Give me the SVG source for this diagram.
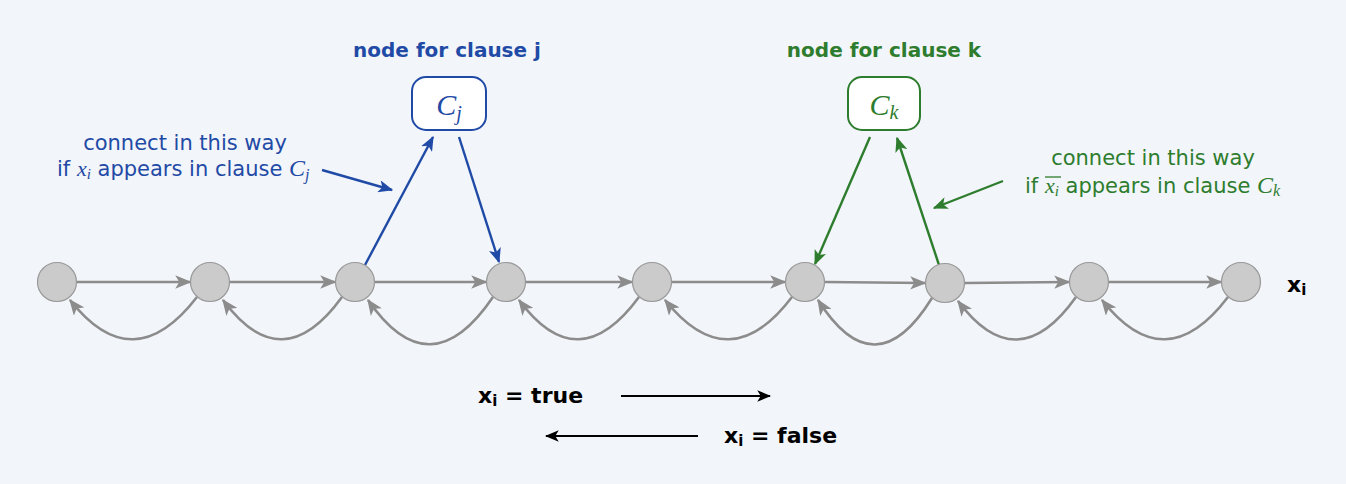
<svg xmlns="http://www.w3.org/2000/svg" width="1346" height="484" viewBox="0 0 1346 484">
<style>
.bg{fill:#f2f5f9}
.v{fill:#cbcbcb;stroke:#999;stroke-width:1.2}
.e{fill:none;stroke:#8c8c8c;stroke-width:2.6;marker-end:url(#ag)}
.eb{fill:none;stroke:#1f4aa6;stroke-width:2.4;marker-end:url(#ab)}
.eg{fill:none;stroke:#2e7d2e;stroke-width:2.4;marker-end:url(#agr)}
.ek{fill:none;stroke:#000;stroke-width:2;marker-end:url(#ak)}
.sans{font-family:"DejaVu Sans","Open Sans",sans-serif}
.math{font-family:"Liberation Serif","DejaVu Serif",serif;font-style:italic}
.blue{fill:#1f4aa6}
.green{fill:#2e7d2e}
</style>
<defs>
<marker id="ag" viewBox="0 0 12 10" refX="11" refY="5" markerWidth="6.2" markerHeight="5.2" orient="auto" markerUnits="strokeWidth"><path d="M0,0 L12,5 L0,10 L3,5 z" fill="#8c8c8c"/></marker>
<marker id="ab" viewBox="0 0 12 10" refX="11" refY="5" markerWidth="6.2" markerHeight="5.2" orient="auto" markerUnits="strokeWidth"><path d="M0,0 L12,5 L0,10 L3,5 z" fill="#1f4aa6"/></marker>
<marker id="agr" viewBox="0 0 12 10" refX="11" refY="5" markerWidth="6.2" markerHeight="5.2" orient="auto" markerUnits="strokeWidth"><path d="M0,0 L12,5 L0,10 L3,5 z" fill="#2e7d2e"/></marker>
<marker id="ak" viewBox="0 0 12 10" refX="11" refY="5" markerWidth="7" markerHeight="5.8" orient="auto" markerUnits="strokeWidth"><path d="M0,0 L12,5 L0,10 L3,5 z" fill="#000"/></marker>
</defs>
<rect class="bg" x="0" y="0" width="1346" height="484"/>

<g id="connectors">
<path class="e" d="M77,282 L190,282"/>
<path class="e" d="M230,282 L335,282"/>
<path class="e" d="M375,282 L486,282"/>
<path class="e" d="M526,282 L632,282"/>
<path class="e" d="M672,282 L785,282"/>
<path class="e" d="M825,282 L925,283"/>
<path class="e" d="M965,283 L1069,282"/>
<path class="e" d="M1109,282 L1221,282"/>

<path class="e" d="M197,297 Q133,380 70,300"/>
<path class="e" d="M342,297 Q282,380 223,300"/>
<path class="e" d="M493,297 Q430,390 368,300"/>
<path class="e" d="M639,297 Q578,380 519,300"/>
<path class="e" d="M792,297 Q729,380 665,300"/>
<path class="e" d="M932,298 Q875,390 818,300"/>
<path class="e" d="M1076,297 Q1017,380 958,301"/>
<path class="e" d="M1228,297 Q1165,380 1102,300"/>

<path class="eb" d="M365,265 L433,137"/>
<path class="eb" d="M459,137 L499,262"/>
<path class="eg" d="M870,137 L815,264"/>
<path class="eg" d="M939,265 L897,138"/>

<path class="eb" d="M322,170 L392,190"/>
<path class="eg" d="M1003,181 L934,208"/>

<path class="ek" d="M621,396 L770,396"/>
<path class="ek" d="M698,436 L546,436"/>
</g>

<g id="n1"><circle class="v" cx="57" cy="282" r="19.5"/></g>
<g id="n2"><circle class="v" cx="210" cy="282" r="19.5"/></g>
<g id="n3"><circle class="v" cx="355" cy="282" r="19.5"/></g>
<g id="n4"><circle class="v" cx="506" cy="282" r="19.5"/></g>
<g id="n5"><circle class="v" cx="652" cy="282" r="19.5"/></g>
<g id="n6"><circle class="v" cx="805" cy="282" r="19.5"/></g>
<g id="n7"><circle class="v" cx="945" cy="283" r="19.5"/></g>
<g id="n8"><circle class="v" cx="1089" cy="282" r="19.5"/></g>
<g id="n9"><circle class="v" cx="1241" cy="282" r="19.5"/></g>

<g id="cj">
<rect x="412" y="77" width="74" height="53" rx="14" fill="#fff" stroke="#1f4aa6" stroke-width="2"/>
<text x="449" y="115" text-anchor="middle" class="math blue" font-size="30">C<tspan font-size="20" dy="5">j</tspan></text>
</g>
<g id="ck">
<rect x="848" y="77" width="72" height="53" rx="14" fill="#fff" stroke="#2e7d2e" stroke-width="2"/>
<text x="884" y="115" text-anchor="middle" class="math green" font-size="30">C<tspan font-size="20" dy="4">k</tspan></text>
</g>

<g id="labels">
<text x="447" y="57" text-anchor="middle" class="sans blue" font-size="20" font-weight="bold">node for clause j</text>
<text x="884" y="57" text-anchor="middle" class="sans green" font-size="20" font-weight="bold">node for clause k</text>

<text x="185" y="150" text-anchor="middle" class="sans blue" font-size="21">connect in this way</text>
<text x="57" y="176" class="sans blue" font-size="21">if <tspan class="math" font-size="22">x</tspan><tspan class="math" font-size="15" dy="3">i</tspan><tspan dy="-3"> appears in clause </tspan><tspan class="math" font-size="24">C</tspan><tspan class="math" font-size="16" dy="4">j</tspan></text>

<text x="1153" y="165" text-anchor="middle" class="sans green" font-size="21">connect in this way</text>
<text x="1025" y="193" class="sans green" font-size="21">if <tspan class="math" font-size="22">x</tspan><tspan class="math" font-size="15" dy="3">i</tspan><tspan dy="-3"> appears in clause </tspan><tspan class="math" font-size="24">C</tspan><tspan class="math" font-size="16" dy="3">k</tspan></text>
<line x1="1045" y1="177" x2="1061" y2="177" stroke="#2e7d2e" stroke-width="1.3"/>

<text x="1287" y="292" class="sans" font-size="22" font-weight="bold" fill="#000">x<tspan font-size="15" dy="3">i</tspan></text>

<text x="478" y="403" class="sans" font-size="22" font-weight="bold" fill="#000">x<tspan font-size="15" dy="3">i</tspan><tspan dy="-3"> = true</tspan></text>
<text x="724" y="443" class="sans" font-size="22" font-weight="bold" fill="#000">x<tspan font-size="15" dy="3">i</tspan><tspan dy="-3"> = false</tspan></text>
</g>
</svg>
